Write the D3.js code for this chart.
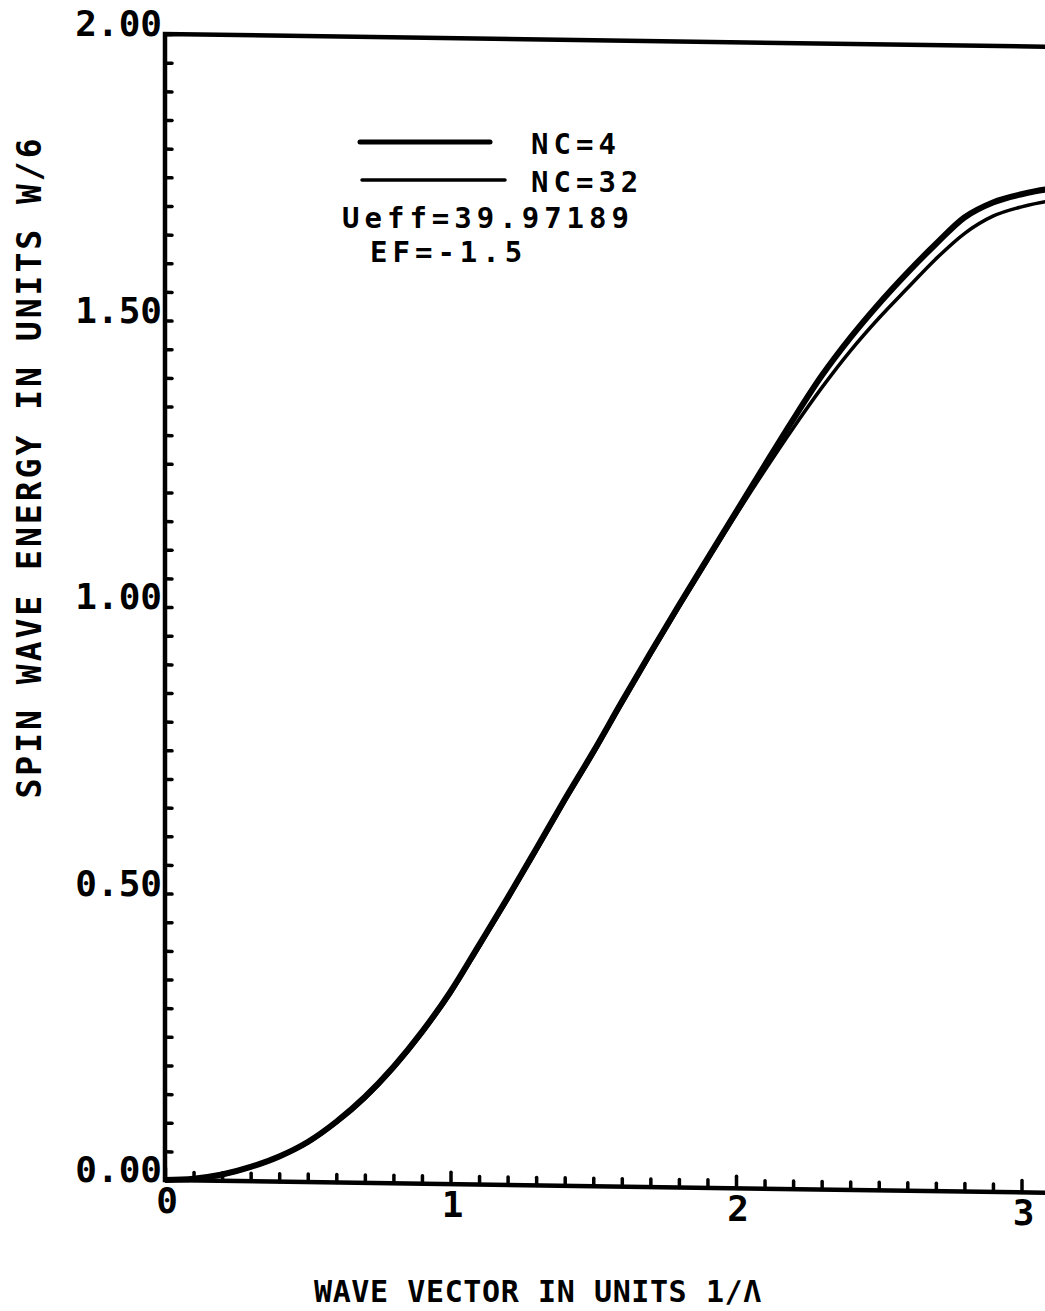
<!DOCTYPE html>
<html>
<head>
<meta charset="utf-8">
<script src="https://cdn.jsdelivr.net/npm/d3@7"></script>
<style>
  body { margin: 0; background: #fff; }
  text { font-family: "DejaVu Sans Mono", monospace; font-weight: bold; fill: #000; }
</style>
</head>
<body>
<div id="chart"></div>
<script>
// wave vector (1/A) and spin wave energy (units W/6)
const waveVector = [0, 0.1, 0.2, 0.3, 0.4, 0.5, 0.6, 0.7, 0.8, 0.9, 1.0, 1.1, 1.2, 1.3, 1.4, 1.5,
  1.6, 1.7, 1.8, 1.9, 2.0, 2.1, 2.2, 2.3, 2.4, 2.5, 2.6, 2.7, 2.8, 2.9, 3.0, 3.1, 3.1416];
const energyNC4 = [0, 0.003, 0.011, 0.025, 0.044, 0.070, 0.106, 0.150, 0.203, 0.265, 0.336, 0.418,
  0.501, 0.587, 0.674, 0.758, 0.846, 0.932, 1.016, 1.098, 1.180, 1.262, 1.343, 1.420, 1.487,
  1.547, 1.602, 1.653, 1.700, 1.727, 1.742, 1.752, 1.754];
const energyNC32 = [0, 0.003, 0.010, 0.024, 0.043, 0.068, 0.104, 0.147, 0.200, 0.262, 0.332, 0.414,
  0.497, 0.583, 0.670, 0.754, 0.842, 0.928, 1.012, 1.094, 1.175, 1.253, 1.328, 1.399, 1.464,
  1.522, 1.575, 1.627, 1.672, 1.703, 1.720, 1.731, 1.733];
const yTickLabels = ["0.00", "0.50", "1.00", "1.50", "2.00"];
const xTickLabels = ["0", "1", "2", "3"];
const legendLabels = ["NC=4", "NC=32"];
const noteLines = ["Ueff=39.97189", "EF=-1.5"];

const width = 1045, height = 1311;
const plotLeft = 165, plotTop = 34, plotBottom = 1180;
const skew = 0.0145; // the scanned page runs slightly downhill to the right
const dy = px => skew * (px - plotLeft);

const svg = d3.select("#chart").append("svg")
  .attr("width", width).attr("height", height);
// frame, ticks and curves follow the skew of the scan; text stays upright
const g = svg.append("g")
  .attr("transform", `matrix(1,${skew},0,1,0,${-skew * plotLeft})`);
const t = svg.append("g");

const x = d3.scaleLinear().domain([0, Math.PI]).range([plotLeft, plotLeft + Math.PI * 285.5]);
const y = d3.scaleLinear().domain([0, 2]).range([plotBottom, plotTop]);

// frame (right side runs off the page)
g.append("path")
  .attr("d", `M${x(Math.PI)},${y(2)}H${plotLeft}V${y(0)}H${x(Math.PI)}`)
  .attr("fill", "none").attr("stroke", "#000").attr("stroke-width", 4.5);

// inward ticks
const yAxis = d3.axisRight(y).tickValues(d3.range(0, 2.001, 0.05))
  .tickSize(7).tickFormat("");
g.append("g").attr("transform", `translate(${plotLeft},0)`).call(yAxis)
  .call(a => a.select(".domain").remove())
  .selectAll("line").attr("stroke-width", 3.5).attr("stroke-linecap", "round");

const xAxis = d3.axisTop(x).tickValues(d3.range(0, 3.101, 0.1))
  .tickSize(8).tickFormat("");
g.append("g").attr("transform", `translate(0,${plotBottom})`).call(xAxis)
  .call(a => a.select(".domain").remove())
  .selectAll("line").attr("stroke-width", 3.5).attr("stroke-linecap", "round")
  .attr("y2", d => Math.abs(d - Math.round(d)) < 1e-6 ? -12 : -8);

t.selectAll(".ylab").data(yTickLabels).join("text")
  .attr("x", plotLeft - 3).attr("y", (d, i) => y(i * 0.5) + 3 + dy(120))
  .attr("text-anchor", "end").attr("font-size", 36).text(d => d);

t.selectAll(".xlab").data(xTickLabels).join("text")
  .attr("x", (d, i) => x(i) + 2).attr("y", (d, i) => plotBottom + 33 + dy(x(i)))
  .attr("text-anchor", "middle").attr("font-size", 36).text(d => d);

// axis titles
t.append("text")
  .attr("transform", `translate(41,467) rotate(-90)`)
  .attr("text-anchor", "middle").attr("font-size", 33).attr("letter-spacing", 3)
  .text("SPIN WAVE ENERGY IN UNITS W/6");
t.append("text")
  .attr("x", 538).attr("y", 1302)
  .attr("text-anchor", "middle").attr("font-size", 30).attr("letter-spacing", 0.6)
  .text("WAVE VECTOR IN UNITS 1\u2215\u039B");

// curves
const line = d3.line().x((d, i) => x(waveVector[i])).y(d => y(d)).curve(d3.curveMonotoneX);
g.append("path").datum(energyNC4).attr("d", line)
  .attr("fill", "none").attr("stroke", "#000").attr("stroke-width", 6);
g.append("path").datum(energyNC32).attr("d", line)
  .attr("fill", "none").attr("stroke", "#000").attr("stroke-width", 3.5);

// legend
const legendY = [142, 180];
const legendW = [5, 3.5];
const legendX = [[360, 490], [362, 505]];
legendLabels.forEach((lab, i) => {
  t.append("line")
    .attr("x1", legendX[i][0]).attr("x2", legendX[i][1])
    .attr("y1", legendY[i]).attr("y2", legendY[i])
    .attr("stroke", "#000").attr("stroke-width", legendW[i]).attr("stroke-linecap", "round");
  t.append("text").attr("x", 531).attr("y", legendY[i] + 12)
    .attr("font-size", 29).attr("letter-spacing", 5).text(lab);
});
t.append("text").attr("x", 342).attr("y", 228)
  .attr("font-size", 29).attr("letter-spacing", 5).text(noteLines[0]);
t.append("text").attr("x", 370).attr("y", 262)
  .attr("font-size", 29).attr("letter-spacing", 5).text(noteLines[1]);
</script>
</body>
</html>
